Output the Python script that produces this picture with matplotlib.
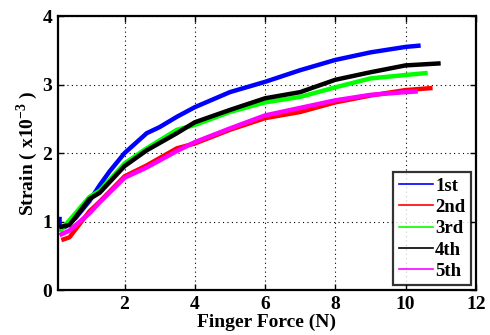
import matplotlib
matplotlib.use("Agg")
import matplotlib.pyplot as plt
from matplotlib.lines import Line2D

plt.rcParams['font.family'] = ['Liberation Serif', 'DejaVu Serif']
plt.rcParams['font.weight'] = 'bold'
plt.rcParams['mathtext.fontset'] = 'custom'
plt.rcParams['mathtext.rm'] = 'Liberation Serif:bold'
plt.rcParams['mathtext.bf'] = 'Liberation Serif:bold'

# Finger force (N) vs. strain (x10^-3) for five repeated loadings
force_1st = [0.15, 0.15, 0.30, 0.60, 1.00, 1.29, 1.57, 2.00, 2.63, 3.00, 3.49, 4.00, 5.00, 6.00, 7.00, 8.00, 9.00, 10.00, 10.43]
strain_1st = [1.07, 0.92, 0.92, 1.05, 1.30, 1.53, 1.73, 2.00, 2.29, 2.38, 2.53, 2.67, 2.89, 3.04, 3.21, 3.36, 3.47, 3.55, 3.57]

force_2nd = [0.20, 0.43, 1.00, 1.29, 2.00, 2.63, 3.49, 4.00, 5.00, 6.00, 7.00, 8.00, 9.00, 10.00, 10.77]
strain_2nd = [0.73, 0.77, 1.15, 1.29, 1.66, 1.82, 2.07, 2.14, 2.34, 2.51, 2.60, 2.74, 2.84, 2.92, 2.95]

force_3rd = [0.15, 0.43, 1.00, 1.29, 2.00, 2.63, 3.49, 4.00, 5.00, 6.00, 7.00, 8.00, 9.00, 10.00, 10.63]
strain_3rd = [0.85, 1.02, 1.36, 1.45, 1.85, 2.07, 2.34, 2.41, 2.60, 2.74, 2.82, 2.96, 3.09, 3.14, 3.17]

force_4th = [0.15, 0.43, 1.00, 1.29, 2.00, 2.63, 3.49, 4.00, 5.00, 6.00, 7.00, 8.00, 9.00, 10.00, 11.00]
strain_4th = [0.92, 0.95, 1.33, 1.42, 1.81, 2.04, 2.29, 2.45, 2.63, 2.80, 2.89, 3.07, 3.18, 3.28, 3.31]

force_5th = [0.15, 0.43, 1.00, 1.29, 2.00, 2.63, 3.49, 4.00, 5.00, 6.00, 7.00, 8.00, 9.00, 10.00, 10.35]
strain_5th = [0.80, 0.87, 1.12, 1.28, 1.64, 1.79, 2.03, 2.16, 2.36, 2.55, 2.66, 2.77, 2.85, 2.89, 2.90]

labels = ['1st', '2nd', '3rd', '4th', '5th']
colors = ['#0000ff', '#ff0000', '#00ff00', '#000000', '#ff00ff']
forces = [force_1st, force_2nd, force_3rd, force_4th, force_5th]
strains = [strain_1st, strain_2nd, strain_3rd, strain_4th, strain_5th]

x_ticks = [2, 4, 6, 8, 10, 12]
y_ticks = [0, 1, 2, 3, 4]

fig = plt.figure(figsize=(4.9, 3.35), dpi=100)
ax = fig.add_axes([0.118, 0.134, 0.853, 0.818])

for f, s, c in zip(forces, strains, colors):
    ax.plot(f, s, color=c, linewidth=3.2, solid_capstyle='butt',
            solid_joinstyle='round')

ax.set_xlim(0.1, 12)
ax.set_ylim(0, 4)
ax.set_xticks(x_ticks)
ax.set_yticks(y_ticks)
ax.grid(True, color='black', linestyle=(0, (1, 3)), linewidth=0.8)
ax.tick_params(direction='in', top=True, right=True, length=4, width=1,
               labelsize=14, pad=4)
for lab in ax.get_xticklabels() + ax.get_yticklabels():
    lab.set_fontweight('bold')
for sp in ax.spines.values():
    sp.set_linewidth(1.6)

ax.set_xlabel('Finger Force (N)', fontsize=14, fontweight='bold', labelpad=1)
ax.set_ylabel(r'Strain ( x10$^{-3}$ )', fontsize=14, fontweight='bold', labelpad=2)

handles = [Line2D([0], [0], color=c, linewidth=1.2) for c in colors]
leg = ax.legend(handles, labels, loc='lower right', fontsize=13.5,
                frameon=True, fancybox=False, edgecolor='black',
                handlelength=1.85, handletextpad=0.1, labelspacing=0.22,
                borderpad=0.3, borderaxespad=0.25)
leg.get_frame().set_linewidth(1.6)
for t in leg.get_texts():
    t.set_fontweight('bold')

fig.savefig('out.png', dpi=100)
